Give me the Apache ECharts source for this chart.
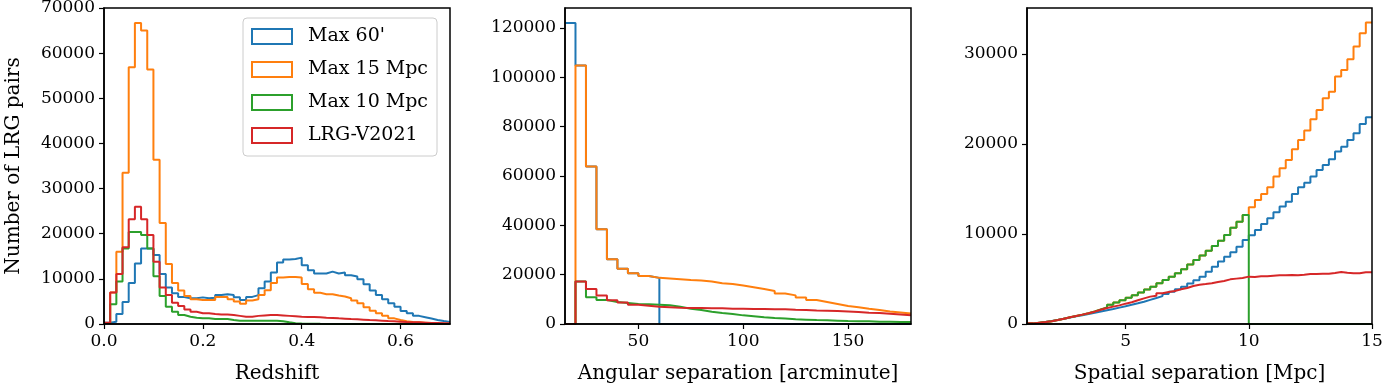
<!DOCTYPE html>
<html>
<head>
<meta charset="utf-8">
<script src="https://cdn.jsdelivr.net/npm/echarts@6/dist/echarts.min.js"></script>
<style>
  html, body { margin: 0; padding: 0; background: #fff; }
  #chart_pairs { width: 1383px; height: 385px; }
</style>
</head>
<body>
<div id="chart_pairs"></div>
<script>
/**
 * LRG pair histograms: redshift, angular separation, spatial separation
 */
var names = ["Max 60'", 'Max 15 Mpc', 'Max 10 Mpc', 'LRG-V2021'];
var colors = ['#1f77b4', '#ff7f0e', '#2ca02c', '#d62728'];

// redshift bins: 0 .. 0.7, width 0.0125
var zStart = 0, zWidth = 0.0125;
var zMax60 = [300, 500, 2200, 4900, 9100, 13400, 16700, 16700, 15300, 11100, 8100, 6800, 6000, 5700, 5700, 5900,
  5700, 5800, 6400, 6600, 6400, 5900, 5300, 6000, 6400, 7900, 9400, 11400, 13600, 14300, 14400, 14700,
  13000, 11900, 11200, 11200, 11600, 11200, 11400, 10800, 10500, 9900, 8800, 7400, 6400, 5500, 4600, 3800,
  2900, 2400, 1800, 1500, 1200, 900, 660, 440];
var zMax15 = [200, 7000, 16000, 33500, 56900, 66700, 65000, 56400, 36400, 22400, 13300, 9100, 7400, 6200, 5500, 5300,
  5300, 5300, 6000, 6000, 5500, 5000, 4500, 5200, 5500, 6400, 7500, 9100, 10300, 10400, 10400, 10300,
  8850, 7700, 6900, 6600, 6600, 6300, 6100, 5700, 5200, 4600, 3700, 2950, 2360, 1850, 1250, 880,
  590, 440, 370, 300, 220, 150, 100, 80];
var zMax10 = [200, 4400, 9400, 16700, 20400, 20400, 19700, 16700, 10600, 6200, 3800, 2700, 2000, 1600, 1400, 1250,
  1250, 1100, 1100, 1100, 900, 740, 740, 740, 740, 740, 740, 740, 600, 370, 150, 100,
  80, 50, 30, 20, 10, 10, 0, 0, 0, 0, 0, 0, 0, 0, 0, 0,
  0, 0, 0, 0, 0, 0, 0, 0];
var zV2021 = [300, 7000, 11100, 17000, 23200, 26000, 23200, 19700, 13800, 8100, 6400, 4700, 4000, 3200, 2700, 2400,
  2400, 2200, 2100, 2100, 2000, 1800, 1600, 1600, 1800, 1900, 2000, 2000, 1900, 1800, 1700, 1600,
  1550, 1550, 1480, 1400, 1330, 1250, 1180, 1100, 1030, 960, 880, 810, 740, 660, 590, 520,
  440, 370, 370, 300, 220, 220, 150, 150];

// angular separation bins: 15 .. 180 arcmin, width 5
var aStart = 15, aWidth = 5;
var aMax60 = [122000, 104800, 63800, 38400, 26200, 22400, 20600, 19500, 18700,
  0, 0, 0, 0, 0, 0, 0, 0, 0, 0, 0, 0, 0, 0, 0, 0, 0, 0, 0, 0, 0, 0, 0, 0];
var aMax15 = [0, 104800, 63800, 38400, 26200, 22400, 20600, 19500, 18700,
  18400, 18100, 17800, 17600, 17200, 16500, 16200, 15600, 14900, 14200, 13400, 12400,
  11600, 10700, 9700, 8900, 8100, 7300, 6800, 6200, 5700, 5100, 4700, 4300];
var aMax10 = [0, 17200, 10800, 9700, 8900, 8500, 8100, 8000, 7800, 7600, 7000, 6200, 5700, 5000, 4500, 4100,
  3500, 3100, 2700, 2400, 2200, 1900, 1760, 1600, 1500, 1350, 1200, 1100, 1100, 950, 950, 800, 800];
var aV2021 = [0, 17200, 14200, 11600, 9600, 8700, 7800, 7400, 7000, 6800, 6600, 6500, 6500, 6400, 6400, 6200,
  6200, 6100, 6100, 5950, 5950, 5800, 5700, 5500, 5400, 5300, 5100, 4900, 4600, 4500, 4200, 3900, 3500];

// spatial separation bins: 1 .. 15 Mpc, width 0.25
var sStart = 1, sWidth = 0.25;
var sMax60 = [40, 110, 210, 330, 460, 590, 720, 850, 980, 1110, 1250, 1390, 1530, 1670, 1820, 1970, 2130, 2300, 2480, 2680,
  2880, 3100, 3330, 3580, 3850, 4150, 4500, 4870, 5260, 5810, 6370, 6930, 7480, 7960, 8590, 9330,
  9850, 10440, 11110, 11740, 12410, 13040, 13590, 14440, 15190, 15700,
  16370, 17110, 17670, 18300, 19150, 19700, 20440, 21190, 22220, 22960];
var sMax10 = [70, 150, 220, 300, 440, 590, 740, 890, 1040, 1200, 1400, 1620, 1830, 2150, 2400, 2650, 2920, 3200, 3500, 3830,
  4150, 4520, 4890, 5260, 5630, 6070, 6600, 7100, 7600, 8150, 8670, 9260, 9890, 10700, 11370, 12110,
  0, 0, 0, 0, 0, 0, 0, 0, 0, 0, 0, 0, 0, 0, 0, 0, 0, 0, 0, 0];
var sMax15 = sMax10.slice(0, 36).concat([12960, 13780, 14440, 15190, 16370, 17300, 18220, 19410, 20440, 21480,
  22740, 23780, 25070, 25810, 27480, 28220, 29410, 30810, 32300, 33480]);
var sV2021 = [70, 150, 220, 300, 440, 590, 740, 890, 1040, 1190, 1370, 1590, 1780, 1930, 2070, 2260, 2410, 2630, 2850, 3040,
  3150, 3410, 3560, 3670, 3850, 4000, 4220, 4370, 4440, 4520, 4670, 4780, 4960, 5040, 5110, 5260, 5220, 5300, 5300, 5370,
  5410, 5410, 5440, 5410, 5480, 5560, 5560, 5590, 5590, 5670, 5780, 5700, 5630, 5630, 5740, 5740];

// tick labels
var zTicks = [0, 0.2, 0.4, 0.6];
var aTicks = [50, 100, 150];
var sTicks = [5, 10, 15];
var zCountTicks = [0, 10000, 20000, 30000, 40000, 50000, 60000, 70000];
var aCountTicks = [0, 20000, 40000, 60000, 80000, 100000, 120000];
var sCountTicks = [0, 10000, 20000, 30000];

var font = 'DejaVu Serif';

// outline of a step histogram (the outer verticals fall on the spines)
function steps(start, width, vals) {
    var pts = [];
    for (var i = 0; i < vals.length; i++) {
        pts.push([start + i * width, vals[i]]);
    }
    pts.push([start + vals.length * width, vals[vals.length - 1]]);
    return pts;
}

function axis(gi, min, max, ticks, name, fmt, isY) {
    return {
        type: 'value',
        gridIndex: gi,
        min: min,
        max: max,
        z: 5,
        name: name,
        nameLocation: 'middle',
        nameGap: isY ? 80 : 40,
        nameTextStyle: { color: '#000', fontFamily: font, fontSize: 20 },
        axisLine: { show: true, onZero: false, lineStyle: { color: '#000', width: 1.5 } },
        axisTick: { show: true, inside: false, length: 5, customValues: ticks, lineStyle: { color: '#000', width: 1.2 } },
        axisLabel: { show: true, color: '#000', fontFamily: font, fontSize: 17, margin: 9, customValues: ticks, formatter: fmt },
        splitLine: { show: false }
    };
}

var chart_pairs = echarts.init(document.getElementById('chart_pairs'));

var grids = [
    { left: 104, top: 8, width: 346, height: 316 },
    { left: 565, top: 8, width: 346, height: 316 },
    { left: 1027, top: 8, width: 345, height: 316 }
];
grids.forEach(function (g) {
    g.show = true;
    g.z = 5;
    g.containLabel = false;
    g.outerBoundsMode = 'none';
    g.borderColor = '#000';
    g.borderWidth = 1.5;
});

var series = [];
var sets = [
    [zStart, zWidth, [zMax60, zMax15, zMax10, zV2021]],
    [aStart, aWidth, [aMax60, aMax15, aMax10, aV2021]],
    [sStart, sWidth, [sMax60, sMax15, sMax10, sV2021]]
];
sets.forEach(function (set, gi) {
    set[2].forEach(function (vals, k) {
        series.push({
            name: names[k],
            type: 'line',
            xAxisIndex: gi,
            yAxisIndex: gi,
            step: 'end',
            symbol: 'none',
            showSymbol: false,
            color: colors[k],
            lineStyle: { color: colors[k], width: 2 },
            data: steps(set[0], set[1], vals)
        });
    });
});

var chart_pairs_option = {
    backgroundColor: '#fff',
    animation: false,
    textStyle: { fontFamily: font },
    legend: {
        data: names.map(function (n, k) {
            return { name: n, icon: 'rect', itemStyle: { color: 'transparent', borderColor: colors[k], borderWidth: 2 } };
        }),
        orient: 'vertical',
        left: 243,
        top: 18,
        z: 10,
        itemWidth: 40,
        itemHeight: 15,
        itemGap: 14,
        padding: [9, 9, 11, 8],
        backgroundColor: '#fff',
        borderColor: '#cccccc',
        borderWidth: 1,
        borderRadius: 4,
        textStyle: { color: '#000', fontFamily: font, fontSize: 19, padding: [0, 0, 0, 11] }
    },
    grid: grids,
    xAxis: [
        axis(0, 0, 0.7, zTicks, 'Redshift', function (v) { return v.toFixed(1); }),
        axis(1, 15, 180, aTicks, 'Angular separation [arcminute]', function (v) { return v; }),
        axis(2, 1, 15, sTicks, 'Spatial separation [Mpc]', function (v) { return v; })
    ],
    yAxis: [
        axis(0, 0, 70000, zCountTicks, 'Number of LRG pairs', function (v) { return v; }, true),
        axis(1, 0, 128100, aCountTicks, '', function (v) { return v; }, true),
        axis(2, 0, 35100, sCountTicks, '', function (v) { return v; }, true)
    ],
    series: series
};
chart_pairs.setOption(chart_pairs_option);
</script>
</body>
</html>
